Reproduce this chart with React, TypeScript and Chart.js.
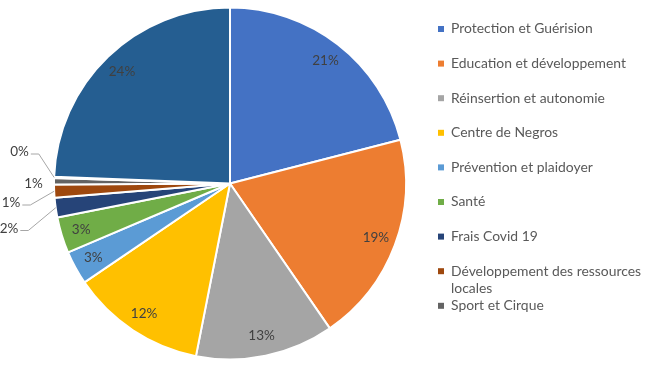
import React, { useEffect, useRef } from "react";
import { Chart, registerables } from "chart.js";

Chart.register(...registerables);

const categories = [
  "Protection et Guérision",
  "Education et développement",
  "Réinsertion et autonomie",
  "Centre de Negros",
  "Prévention et plaidoyer",
  "Santé",
  "Frais Covid 19",
  "Développement des ressources locales",
  "Sport et Cirque",
  "Autres",
  "Frais de fonctionnement",
];
const shares = [21.0, 19.4, 12.7, 12.4, 3.1, 3.3, 1.8, 1.2, 0.6, 0.1, 24.4];
const sliceColors = [
  "#4472C4", "#ED7D31", "#A5A5A5", "#FFC000", "#5B9BD5", "#70AD47",
  "#264478", "#9E480E", "#636363", "#997300", "#255E91",
];
const legendShown = 9;

// style: placement of outside callout labels (offset of text centre from pie centre)
const callouts: Record<number, { dx: number; dy: number; line: boolean }> = {
  6: { dx: -221, dy: 45, line: true },
  7: { dx: -219, dy: 19.5, line: true },
  8: { dx: -196.5, dy: 0, line: false },
  9: { dx: -210.5, dy: -31.5, line: true },
};

const FONT = "Lato, 'Open Sans', sans-serif";

const labelPlugin = {
  id: "pctLabels",
  afterDatasetsDraw(chart: any) {
    const ctx = chart.ctx as CanvasRenderingContext2D;
    const meta = chart.getDatasetMeta(0);
    const data = chart.data.datasets[0].data as number[];
    const total = data.reduce((a, b) => a + b, 0);
    ctx.save();
    ctx.font = `13.5px ${FONT}`;
    ctx.fillStyle = "#404040";
    ctx.textAlign = "center";
    ctx.textBaseline = "middle";
    meta.data.forEach((arc: any, i: number) => {
      const p = arc.getProps(["x", "y", "startAngle", "endAngle", "outerRadius"], true);
      const mid = (p.startAngle + p.endAngle) / 2;
      const txt = Math.round((data[i] / total) * 100) + "%";
      const c = callouts[i];
      if (!c) {
        const r = p.outerRadius * 0.885;
        ctx.fillText(txt, p.x + Math.cos(mid) * r, p.y + Math.sin(mid) * r);
      } else {
        const tx = p.x + c.dx;
        const ty = p.y + c.dy;
        ctx.fillText(txt, tx, ty);
        if (c.line) {
          const w = ctx.measureText(txt).width;
          const sx = tx + w / 2 + 2;
          const sy = ty + 2;
          const ax = p.x + Math.cos(mid) * p.outerRadius;
          const ay = p.y + Math.sin(mid) * p.outerRadius;
          ctx.beginPath();
          ctx.strokeStyle = "#A6A6A6";
          ctx.lineWidth = 1;
          ctx.moveTo(sx, sy);
          ctx.lineTo(sx + 8, sy);
          ctx.lineTo(ax, ay);
          ctx.stroke();
        }
      }
    });
    ctx.restore();
  },
};

const legendPlugin = {
  id: "sideLegend",
  afterDraw(chart: any) {
    const ctx = chart.ctx as CanvasRenderingContext2D;
    const labels = chart.data.labels as string[];
    const colors = chart.data.datasets[0].backgroundColor as string[];
    ctx.save();
    ctx.font = `13.9px ${FONT}`;
    ctx.textAlign = "left";
    ctx.textBaseline = "middle";
    const x0 = 441;
    const y0 = 29;
    const step = 34.6;
    const maxW = 215;
    for (let i = 0; i < legendShown; i++) {
      const y = y0 + i * step;
      ctx.fillStyle = colors[i];
      ctx.fillRect(x0 - 3, y - 3, 6, 6);
      ctx.fillStyle = "#595959";
      const words = labels[i].split(" ");
      const lines: string[] = [];
      let cur = "";
      for (const w of words) {
        const t = cur ? cur + " " + w : w;
        if (ctx.measureText(t).width > maxW && cur) {
          lines.push(cur);
          cur = w;
        } else cur = t;
      }
      lines.push(cur);
      lines.forEach((ln, k) => ctx.fillText(ln, x0 + 10, y + k * 17));
    }
    ctx.restore();
  },
};

export default function App() {
  const ref = useRef<HTMLCanvasElement>(null);
  useEffect(() => {
    if (!ref.current) return;
    const chart = new Chart(ref.current, {
      type: "pie",
      data: {
        labels: categories,
        datasets: [
          {
            data: shares,
            backgroundColor: sliceColors,
            borderColor: "#FFFFFF",
            borderWidth: 2,
          },
        ],
      },
      options: {
        responsive: false,
        animation: false,
        layout: { padding: { left: 53, right: 260, top: 6.5, bottom: 8.5 } },
        plugins: {
          legend: { display: false },
          tooltip: { enabled: false },
        },
      },
      plugins: [labelPlugin, legendPlugin],
    });
    return () => chart.destroy();
  }, []);
  return (
    <div style={{ position: "absolute", left: 0, top: 0, width: 667, height: 369, background: "#fff" }}>
      <canvas ref={ref} width={667} height={369} />
    </div>
  );
}
